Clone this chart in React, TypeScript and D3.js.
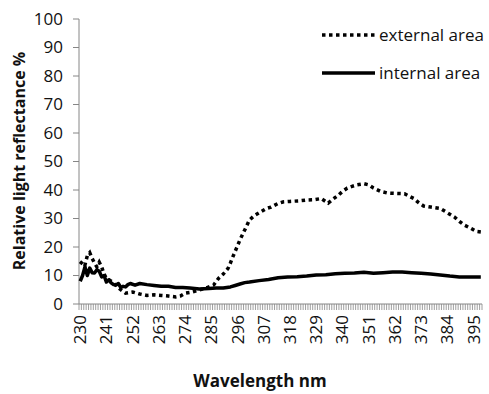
import React from "react";
import * as d3 from "d3";

const categories: number[] = d3.range(230, 399);
const tickLabels: number[] = [230, 241, 252, 263, 274, 285, 296, 307, 318, 329, 340, 351, 362, 373, 384, 395];
const yTicks: number[] = [0, 10, 20, 30, 40, 50, 60, 70, 80, 90, 100];

const extNm: number[] = [230,231,232,233,234,235,236,237,238,239,240,241,243,245,247,249,252,255,258,261,264,267,270,272,274,277,280,283,286,288,290,292,293,294,297,299,301,303,305,308,310,313,315,318,322,325,328,331,334,336,338,340,342,344,346,349,351,353,356,359,362,366,368,370,372,374,377,381,384,387,389,391,394,396,398];
const extVal: number[] = [14,15,13.7,17,18,16,14.4,13,14.7,13,10.5,9,8,6.5,5,3.8,4.2,3.5,3.0,3.2,3.0,2.8,2.5,2.8,3.8,4.2,4.9,5.7,6.7,9,10.5,12.5,14.4,16.5,22.5,26,29.5,31,32,33.5,34,35.3,35.8,36,36.2,36.5,36.6,37,35.4,36.8,38,39.5,40.7,41.3,41.8,42.2,41.8,40.7,39.5,38.9,38.8,38.7,37.8,37,35.5,34.4,34,33.5,32,30.5,29,27.7,26.5,25.5,25.3];

const intNm: number[] = [230,231,232,233,234,235,236,237,238,239,240,241,242,243,244,245,246,247,248,249,250,251,253,255,258,261,264,267,270,273,276,280,284,287,290,293,295,297,299,301,305,309,313,317,321,325,329,333,337,341,345,349,353,357,361,365,369,373,377,381,385,389,393,398];
const intVal: number[] = [8,10,13,10,12.6,11,10.9,12,11.5,9.5,10,7.7,8.5,7.4,6.8,6.7,7.2,5.8,6.2,6,6.8,7.2,6.6,7.2,6.8,6.5,6.2,6.2,5.8,5.8,5.6,5.3,5.4,5.6,5.6,6,6.5,7,7.5,7.7,8.2,8.6,9.2,9.5,9.6,9.8,10.2,10.3,10.6,10.8,10.9,11.1,10.8,11,11.2,11.2,11,10.8,10.5,10.2,9.8,9.5,9.5,9.5];

const W = 489;
const H = 394;
const left = 79;
const right = 482;
const top = 19;
const bottom = 304;
const font = "'Open Sans', sans-serif";
const axisColor = "#868686";
const textColor = "#111";

export default function App() {
  const x = d3.scaleBand<number>().domain(categories).range([left, right]).padding(0);
  const bw = x.bandwidth();
  const cx = (v: number) => (x(v) as number) + bw / 2;
  const y = d3.scaleLinear().domain([0, 100]).range([bottom, top]);

  const line = d3
    .line<[number, number]>()
    .x((d) => cx(d[0]))
    .y((d) => y(d[1]))
    .curve(d3.curveLinear);

  const ext = extNm.map((n, i) => [n, extVal[i]] as [number, number]);
  const int = intNm.map((n, i) => [n, intVal[i]] as [number, number]);

  const catEdges = d3.range(0, categories.length + 1).map((i) => left + i * bw);

  return (
    <svg width={W} height={H} style={{ position: "absolute", left: 0, top: 0, background: "#fff" }}>
      <rect x={0} y={0} width={W} height={H} fill="#fff" />
      {/* y axis */}
      <line x1={left} x2={left} y1={top} y2={bottom} stroke={axisColor} strokeWidth={1} />
      {yTicks.map((t) => (
        <g key={t}>
          <line x1={left - 6} x2={left} y1={y(t)} y2={y(t)} stroke={axisColor} strokeWidth={1} />
          <text x={63} y={y(t)} dy="0.35em" textAnchor="end" fontFamily={font} fontSize={17} fill={textColor}>
            {t}
          </text>
        </g>
      ))}
      {/* x axis */}
      <line x1={left} x2={right} y1={bottom} y2={bottom} stroke={axisColor} strokeWidth={1} />
      {catEdges.map((e, i) => (
        <line key={i} x1={e} x2={e} y1={bottom} y2={bottom + 6} stroke={axisColor} strokeWidth={0.8} />
      ))}
      {tickLabels.map((t) => (
        <text
          key={t}
          transform={`translate(${cx(t)},${315}) rotate(-90)`}
          textAnchor="end"
          dy="0.35em"
          fontFamily={font}
          fontSize={17}
          fill={textColor}
        >
          {t}
        </text>
      ))}
      {/* series */}
      <path d={line(int) || ""} fill="none" stroke="#000" strokeWidth={3.5} strokeLinejoin="round" />
      <path d={line(ext) || ""} fill="none" stroke="#000" strokeWidth={3.5} strokeDasharray="3.5 3.5" />
      {/* legend */}
      <line x1={322} x2={375} y1={35} y2={35} stroke="#000" strokeWidth={3.5} strokeDasharray="3.5 3.5" />
      <text x={379} y={35} dy="0.35em" fontFamily={font} fontSize={17} fill={textColor}>
        external area
      </text>
      <line x1={322} x2={375} y1={73} y2={73} stroke="#000" strokeWidth={3.5} />
      <text x={379} y={73} dy="0.35em" fontFamily={font} fontSize={17} fill={textColor}>
        internal area
      </text>
      {/* axis titles */}
      <text x={260} y={387} textAnchor="middle" fontFamily={font} fontSize={17} fontWeight="bold" fill={textColor}>
        Wavelength nm
      </text>
      <text
        transform={`translate(19,161) rotate(-90)`}
        textAnchor="middle"
        dy="0.35em"
        fontFamily={font}
        fontSize={16}
        fontWeight="bold"
        fill={textColor}
      >
        Relative light reflectance %
      </text>
    </svg>
  );
}
